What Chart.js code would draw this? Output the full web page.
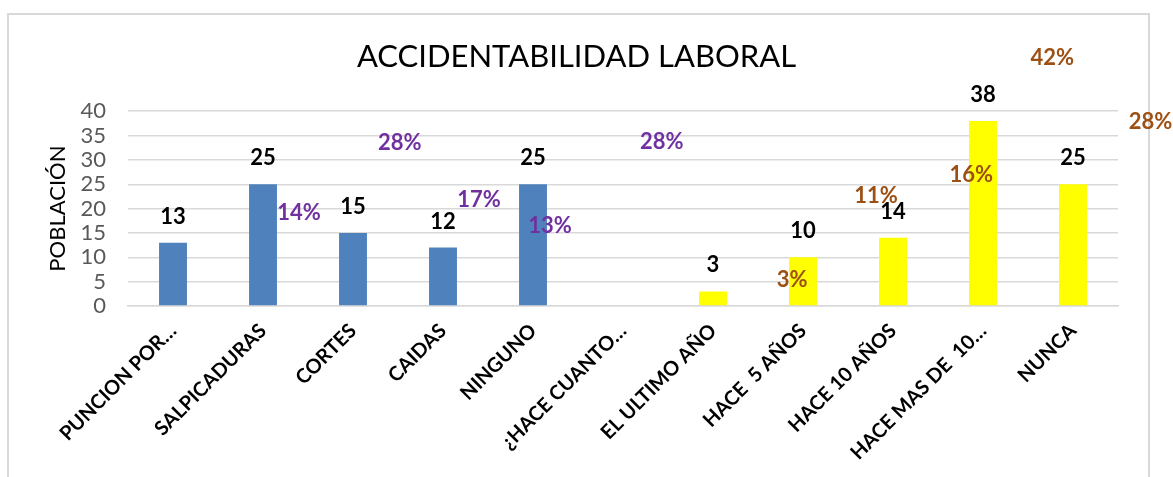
<!DOCTYPE html>
<html>
<head>
<meta charset="utf-8">
<script src="https://cdn.jsdelivr.net/npm/chart.js@4"></script>
<style>
  html, body { margin: 0; padding: 0; background: #fff; overflow: hidden; }
  #frame { position: absolute; left: 7px; top: 13px; width: 1139px; height: 500px; border: 2px solid #d9d9d9; }
  #chart { position: absolute; left: 0; top: 0; }
</style>
</head>
<body>
<div id="frame"></div>
<canvas id="chart" width="1173" height="477"></canvas>
<script>
const categories = ['PUNCION POR…', 'SALPICADURAS', 'CORTES', 'CAIDAS', 'NINGUNO', '¿HACE CUANTO…',
    'EL ULTIMO AÑO', 'HACE  5 AÑOS', 'HACE 10 AÑOS', 'HACE MAS DE  10…', 'NUNCA'];
const tipoAccidente = [13, 25, 15, 12, 25, null, null, null, null, null, null];
const cuandoAccidente = [null, null, null, null, null, null, 3, 10, 14, 38, 25];

// floating percentage labels: text, anchor (category index, value)
const pctText = ['28%', '14%', '17%', '13%', '28%', '42%', '28%', '16%', '11%', '3%'];
const pctIdx = [2.52, 1.40, 3.40, 4.19, 5.43, 9.77, 10.86, 8.87, 7.81, 6.88];
const pctVal = [33.4, 19.1, 21.7, 16.4, 33.6, 50.9, 37.9, 26.9, 22.6, 5.3];
const pctGroup = [0, 0, 0, 0, 0, 1, 1, 1, 1, 1];
const pctColors = ['#7030A0', '#9C5014'];

const FONT = 'Lato, "Open Sans", sans-serif';

const valueLabels = {
    id: 'valueLabels',
    afterDatasetsDraw(chart) {
        const ctx = chart.ctx;
        ctx.save();
        ctx.font = 'bold 22px ' + FONT;
        ctx.fillStyle = '#000';
        ctx.textAlign = 'center';
        ctx.textBaseline = 'alphabetic';
        chart.data.datasets.forEach((ds, i) => {
            chart.getDatasetMeta(i).data.forEach((bar, j) => {
                if (ds.data[j] == null) return;
                ctx.fillText(String(ds.data[j]), bar.x, bar.y - 19);
            });
        });
        ctx.restore();
    }
};

const pctLabels = {
    id: 'pctLabels',
    afterDatasetsDraw(chart) {
        const ctx = chart.ctx;
        const xs = chart.scales.x, ys = chart.scales.y;
        ctx.save();
        ctx.font = 'bold 22px ' + FONT;
        ctx.textAlign = 'center';
        ctx.textBaseline = 'middle';
        pctText.forEach((t, i) => {
            ctx.fillStyle = pctColors[pctGroup[i]];
            ctx.fillText(t, xs.getPixelForValue(pctIdx[i]), ys.getPixelForValue(pctVal[i]));
        });
        ctx.restore();
    }
};

new Chart(document.getElementById('chart').getContext('2d'), {
    type: 'bar',
    data: {
        labels: categories,
        datasets: [
            { data: tipoAccidente, backgroundColor: '#4F81BD', grouped: false },
            { data: cuandoAccidente, backgroundColor: '#FFFF00', grouped: false }
        ]
    },
    options: {
        responsive: false,
        animation: false,
        layout: { padding: { left: 35, right: 55, top: 0, bottom: 0 } },
        datasets: { bar: { barPercentage: 0.31, categoryPercentage: 1 } },
        plugins: {
            legend: { display: false },
            tooltip: { enabled: false },
            title: {
                display: true,
                text: 'ACCIDENTABILIDAD LABORAL',
                color: '#000',
                font: { family: FONT, size: 31, weight: 'normal' },
                padding: { top: 38, bottom: 36 }
            }
        },
        scales: {
            x: {
                grid: { display: false },
                border: { color: '#d9d9d9', width: 1.5 },
                ticks: {
                    color: '#000', font: { family: FONT, size: 20, weight: 'bold' },
                    minRotation: 45, maxRotation: 45, padding: 5, autoSkip: false
                },
                afterFit: s => { s.height = 171; }
            },
            y: {
                min: 0, max: 40,
                grid: { color: '#d9d9d9', lineWidth: 1.5, drawTicks: false },
                border: { display: false },
                ticks: { stepSize: 5, autoSkip: false, color: '#595959', font: { family: FONT, size: 22 }, padding: 22 },
                title: {
                    display: true, text: 'POBLACIÓN', color: '#000',
                    font: { family: FONT, size: 22 }, padding: { top: 10, bottom: 0 }
                },
                afterFit: s => { s.width = 93; }
            }
        }
    },
    plugins: [valueLabels, pctLabels]
});
</script>
</body>
</html>
